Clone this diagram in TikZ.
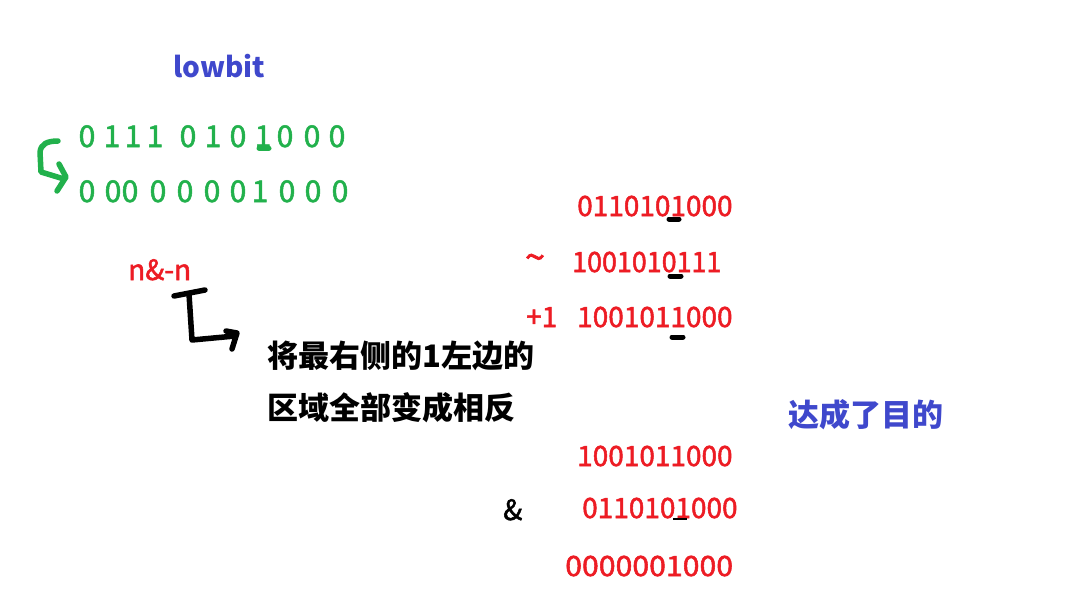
\documentclass[tikz,border=0pt]{standalone}
\usepackage{fontspec}
\setmainfont{Noto Sans CJK SC}
\newfontfamily\numfont[FakeBold=1.8]{Noto Sans CJK SC}
\definecolor{pgreen}{HTML}{22B14C}
\definecolor{pred}{HTML}{ED1C24}
\definecolor{pblue}{HTML}{3F48CC}
\begin{document}
\begin{tikzpicture}[x=1pt,y=-1pt,
  txt/.style={anchor=base west,inner sep=0pt,font=\numfont\fontsize{28}{28}\selectfont},
  rednum/.style={txt,text=pred},
  gnum/.style={anchor=base,inner sep=0pt,font=\numfont\fontsize{30}{30}\selectfont,text=pgreen},
  cn/.style={anchor=base west,inner sep=0pt,font=\fontsize{31}{31}\selectfont\bfseries},
  blob/.style={line width=5pt,line cap=round},
  hand/.style={line width=5.5pt,line cap=round,line join=round}]
\useasboundingbox[fill=white] (0,0) rectangle (1067,600);

% title
\node[txt,text=pblue,font=\fontsize{28}{28}\selectfont\bfseries] (lowbit) at (173,77) {lowbit};

% green rows
\foreach \x/\d [count=\i] in {87/0,112/1,133/1,155/1,188/0,213/1,238/0,263/1,285/0,312/0,337/0}{
  \node[gnum] (ga\i) at (\x,147) {\d};
}
\foreach \x/\d [count=\i] in {87/0,113/0,130/0,158/0,185/0,212/0,238/0,260/1,287/0,313/0,340/0}{
  \node[gnum] (gb\i) at (\x,202) {\d};
}
\draw[blob,pgreen] (259,148) -- (269,148);

% green curly arrow
\draw[hand,pgreen] (58,141) .. controls (47,141) and (41,144) .. (40,152) -- (41,172) -- (64,179);
\draw[hand,pgreen] (59,164) -- (66,177) -- (57,191);

% n&-n
\node[rednum] (nn) at (128,280) {n\&-n};

% black arrow
\draw[hand,black] (174,296) -- (205,290);
\draw[hand,black] (189,294) -- (192,340) -- (235,336);
\draw[hand,black] (226,331) -- (237,333) -- (232,349);

% explanation
\node[cn] (ex1) at (267,367) {将最右侧的1左边的};
\node[cn] (ex2) at (267,419) {区域全部变成相反};

% right computations
\node[rednum] (r1) at (577,216) {0110101000};
\node[rednum,font=\numfont\fontsize{36}{36}\selectfont,anchor=center] (tilde) at (535,262) {\textasciitilde};
\node[rednum,xscale=0.96] (r2) at (572,272) {1001010111};
\node[rednum] (plus) at (526,327) {+1};
\node[rednum] (r3) at (577,327) {1001011000};
\draw[blob] (669,219) -- (679,219);
\draw[blob] (670,276) -- (681,276);
\draw[blob] (672,337) -- (683,337);

\node[cn,text=pblue,font=\fontsize{31}{31}\selectfont\bfseries] (goal) at (788,426) {达成了目的};

\node[rednum] (r4) at (577,466) {1001011000};
\node[txt,text=black] (amp) at (503,520) {\&};
\node[rednum] (r5) at (582,518) {0110101000};
\draw[line width=1.8pt] (673,519) -- (687,519);
\node[rednum,xscale=1.08] (r6) at (565,576) {0000001000};
\end{tikzpicture}
\end{document}
